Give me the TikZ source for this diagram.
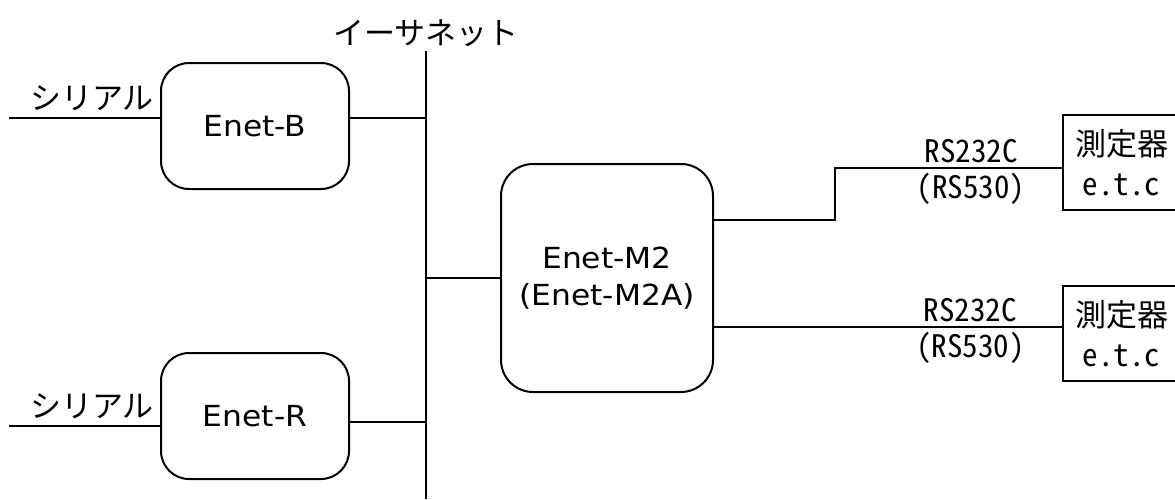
\documentclass[tikz,border=0pt]{standalone}
\usepackage{fontspec}
\setmainfont{Noto Sans CJK JP}
\newfontfamily\halfwidth[RawFeature=+hwid]{Noto Sans CJK JP}
\newfontfamily\unitfont[FakeStretch=1.08]{DejaVu Sans}
\usepackage{tikz}
\usetikzlibrary{positioning}

\begin{document}
\begin{tikzpicture}[x=0.5pt, y=-0.5pt, line width=1pt, node distance=145pt,
    font=\fontsize{15.5pt}{18.5pt}\selectfont,
    dev/.style={draw, rounded corners=14pt, minimum width=94pt, minimum height=63pt, inner sep=0pt, align=center, font=\unitfont\fontsize{14.5pt}{18.5pt}\selectfont},
    inst/.style={draw, minimum width=58.5pt, minimum height=47.5pt, inner sep=0pt, align=center, font=\fontsize{15.5pt}{20pt}\selectfont},
    port/.style={font=\halfwidth\fontsize{15.5pt}{18.5pt}\selectfont, inner sep=2pt}]
    \useasboundingbox (0,0) rectangle (1175,499);
    \clip (0,0) rectangle (1175,499);

    \node[dev]                                                    (eb)    at (255,126) {Enet-B};
    \node[dev]                                                    (er)    [below of=eb] {Enet-R};
    \node[dev, minimum width=106pt, minimum height=114pt, rounded corners=16pt] (m2) at (607,278) {Enet-M2\\(Enet-M2A)};
    \node[inst]                                                   (inst1) at (1121.5,162.5) {測定器\\{\halfwidth e.t.c}};
    \node[inst]                                                   (inst2) [below of=inst1, node distance=85.5pt] {測定器\\{\halfwidth e.t.c}};

    \coordinate (bustop) at (426,51);
    \coordinate (busbot) at (426,499);
    \coordinate (serB)   at (9,118);
    \coordinate (serR)   at (9,426);
    \coordinate (busR)   at (426,422);
    \coordinate (lvA)    at (835,220);
    \coordinate (bend)   at (835,168);
    \coordinate (lvC)    at (835,327);

    \draw (bustop) node [above, inner sep=1.5pt] {イーサネット} -- (busbot);
    \draw (serB) -- (eb.west |- serB) node [pos=0.55, above] {シリアル};
    \draw (eb.east |- serB) -- (bustop |- serB);
    \draw (serR) -- (er.west |- serR) node [pos=0.55, above] {シリアル};
    \draw (er.east |- busR) -- (busR);
    \draw (m2.west) -- (bustop |- m2.west);
    \draw (m2.east |- lvA) -- (lvA) -- (bend) -- (inst1.west |- bend)
          node [pos=0.6, above, port] {RS232C} node [pos=0.6, below, port] {(RS530)};
    \draw (m2.east |- lvC) -- (inst2.west |- lvC)
          node [pos=0.737, above, port] {RS232C} node [pos=0.737, below, port] {(RS530)};
\end{tikzpicture}
\end{document}
